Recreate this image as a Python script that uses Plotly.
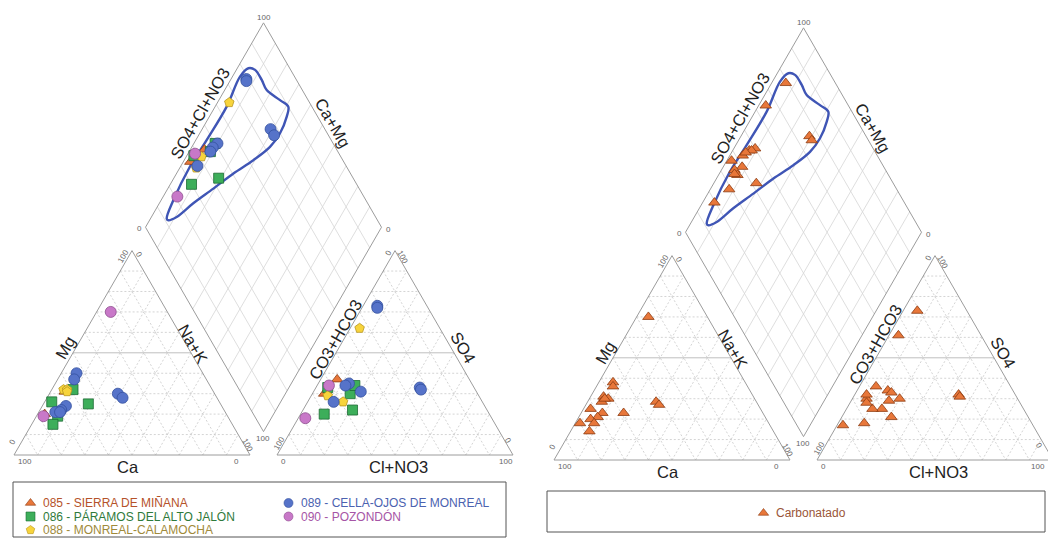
import math
import plotly.graph_objects as go

# ---------------- DATA (percent of meq/L) ----------------
# Left diagram - groundwater bodies
G085_CA = [63, 77]
G085_MG = [31, 20]
G085_NAK = [6, 3]
G085_HCO3 = [56, 65]
G085_SO4 = [37, 30]
G085_CL = [7, 5]

G086_CA = [71, 59, 56, 72, 76]
G086_MG = [26, 32, 25, 19, 15]
G086_NAK = [3, 9, 19, 9, 9]
G086_HCO3 = [62, 54, 57, 70, 50]
G086_SO4 = [33, 30, 22, 20, 34]
G086_CL = [5, 16, 21, 10, 16]

G088_CA = [63, 61.5, 62]
G088_MG = [32, 32, 31]
G088_NAK = [5, 6.5, 7]
G088_HCO3 = [34, 59, 64]
G088_SO4 = [62, 26, 29]
G088_CL = [4, 15, 7]

G089_CA = [53.5, 56, 41, 40, 66, 69, 72, 70]
G089_MG = [40, 37, 30, 28, 24, 22, 21, 21]
G089_NAK = [6.5, 7, 29, 32, 10, 9, 7, 9]
G089_HCO3 = [21, 21.5, 23, 23, 49, 52, 63, 54]
G089_SO4 = [73, 72, 33, 32, 31, 35, 26, 34]
G089_CL = [6, 6.5, 44, 45, 20, 13, 11, 12]

G090_CA = [24, 78]
G090_MG = [70, 19]
G090_NAK = [6, 3]
G090_HCO3 = [79, 61]
G090_SO4 = [18, 34]
G090_CL = [3, 5]

# Right diagram - carbonate samples
CARB_CA = [56, 72, 42.5, 42, 68, 59, 78, 25, 57, 63.5, 62, 65.5, 71, 74.5, 74, 80, 63.5]
CARB_MG = [38, 25, 28.5, 27, 23, 23, 14, 70, 36, 31, 30, 28.5, 21, 20, 18, 18, 30]
CARB_NAK = [6, 3, 29, 31, 9, 18, 8, 5, 7, 5.5, 8, 6, 8, 5.5, 8, 2, 6.5]
CARB_HCO3 = [21, 35, 24, 24, 50, 58, 71, 80.5, 53, 57, 52, 55, 60, 64, 64, 63, 65]
CARB_SO4 = [73, 61, 32, 31, 30, 21, 18, 17, 34, 36, 33, 29, 25, 25, 30, 32, 28]
CARB_CL = [6, 4, 44, 45, 20, 21, 11, 2.5, 13, 7, 15, 16, 15, 11, 6, 5, 7]

# Hand-drawn facies envelope in diamond coordinates (SO4+Cl %, Ca+Mg %)
ENV_P = [11.1, 18.4, 33.6, 47.2, 63.9, 76.9, 82.5, 84.9, 85.3, 84.9, 88.1, 90.0,
         86.9, 80.0, 72.4, 62.1, 50.4, 38.2, 26.1, 15.7, 11.4, 11.1]
ENV_Q = [93.1, 94.8, 96.0, 95.4, 95.1, 96.8, 95.3, 92.1, 86.8, 82.2, 74.1, 69.0,
         67.2, 66.0, 66.9, 70.7, 75.9, 80.7, 85.6, 89.3, 92.0, 93.1]

LEFT_GROUPS = [
    ("085 - SIERRA DE MIÑANA", G085_CA, G085_MG, G085_NAK, G085_HCO3, G085_SO4, G085_CL),
    ("086 - PÁRAMOS DEL ALTO JALÓN", G086_CA, G086_MG, G086_NAK, G086_HCO3, G086_SO4, G086_CL),
    ("088 - MONREAL-CALAMOCHA", G088_CA, G088_MG, G088_NAK, G088_HCO3, G088_SO4, G088_CL),
    ("089 - CELLA-OJOS DE MONREAL", G089_CA, G089_MG, G089_NAK, G089_HCO3, G089_SO4, G089_CL),
    ("090 - POZONDÓN", G090_CA, G090_MG, G090_NAK, G090_HCO3, G090_SO4, G090_CL),
]
RIGHT_GROUPS = [("Carbonatado", CARB_CA, CARB_MG, CARB_NAK, CARB_HCO3, CARB_SO4, CARB_CL)]

# ---------------- STYLE ----------------
STYLES = {
    "085 - SIERRA DE MIÑANA": dict(symbol="triangle-up", fill="#E8773A", edge="#8C3B12", text="#B5522A"),
    "086 - PÁRAMOS DEL ALTO JALÓN": dict(symbol="square", fill="#3DAE5A", edge="#1D6B33", text="#2F7A3B"),
    "088 - MONREAL-CALAMOCHA": dict(symbol="pentagon", fill="#F7D43C", edge="#B8961E", text="#A08A3A"),
    "089 - CELLA-OJOS DE MONREAL": dict(symbol="circle", fill="#5673C9", edge="#34509E", text="#4B62B0"),
    "090 - POZONDÓN": dict(symbol="circle", fill="#C878C8", edge="#8E4E8E", text="#A655A6"),
    "Carbonatado": dict(symbol="triangle-up", fill="#E8773A", edge="#8C3B12", text="#9A5638"),
}
FONT = "Liberation Sans, Arial, sans-serif"

W, HGT = 1048, 538
S = 236.0
H = S * math.sqrt(3) / 2
GAP = 27.0


def cat_xy(ca, mg, nak, ox, oy):
    t = ca + mg + nak
    m, n = mg / t, nak / t
    return ox + S * (n + 0.5 * m), oy - H * m


def an_xy(hco3, so4, cl, ox, oy):
    t = hco3 + so4 + cl
    s4, c = so4 / t, cl / t
    return ox + S + GAP + S * (c + 0.5 * s4), oy - H * s4


def dia_xy(p, q, ox, oy):
    bx = ox + S + GAP / 2
    by = oy - GAP * math.sqrt(3) / 2
    return bx + S / 2 * (p - q), by - H * (p + q)


fig = go.Figure()
annotations = []
shapes = []


def add_lines(segs, color, width, dash="solid"):
    xs, ys = [], []
    for (x0, y0), (x1, y1) in segs:
        xs += [x0, x1, None]
        ys += [y0, y1, None]
    fig.add_trace(go.Scatter(x=xs, y=ys, mode="lines", hoverinfo="skip", showlegend=False,
                             line=dict(color=color, width=width, dash=dash)))


def ann(x, y, text, size, angle=0, color="#222", xanchor="center"):
    annotations.append(dict(x=x, y=y, xref="x", yref="y", text=text, showarrow=False,
                            textangle=angle, xanchor=xanchor, yanchor="middle",
                            font=dict(family=FONT, size=size, color=color)))


def draw_diagram(ox, oy, groups):
    dashed, solid50, dgrid = [], [], []
    for k in range(1, 10):
        f = k * 10
        lst = solid50 if k == 5 else dashed
        # cation triangle
        lst.append((cat_xy(100 - f, f, 0, ox, oy), cat_xy(0, f, 100 - f, ox, oy)))
        dashed.append((cat_xy(f, 100 - f, 0, ox, oy), cat_xy(f, 0, 100 - f, ox, oy)))
        dashed.append((cat_xy(100 - f, 0, f, ox, oy), cat_xy(0, 100 - f, f, ox, oy)))
        # anion triangle
        lst.append((an_xy(100 - f, f, 0, ox, oy), an_xy(0, f, 100 - f, ox, oy)))
        dashed.append((an_xy(f, 100 - f, 0, ox, oy), an_xy(f, 0, 100 - f, ox, oy)))
        dashed.append((an_xy(100 - f, 0, f, ox, oy), an_xy(0, 100 - f, f, ox, oy)))
        # diamond
        dgrid.append((dia_xy(k / 10, 0, ox, oy), dia_xy(k / 10, 1, ox, oy)))
        dgrid.append((dia_xy(0, k / 10, ox, oy), dia_xy(1, k / 10, ox, oy)))
    add_lines(dashed, "#c9c9c9", 0.8, "2px,2px")
    add_lines(solid50, "#b8b8b8", 0.9)
    add_lines(dgrid, "#d6d6d6", 0.8)

    # borders
    c1, c2, c3 = cat_xy(100, 0, 0, ox, oy), cat_xy(0, 0, 100, ox, oy), cat_xy(0, 100, 0, ox, oy)
    a1, a2, a3 = an_xy(100, 0, 0, ox, oy), an_xy(0, 0, 100, ox, oy), an_xy(0, 100, 0, ox, oy)
    d1, d2, d3, d4 = dia_xy(0, 0, ox, oy), dia_xy(1, 0, ox, oy), dia_xy(1, 1, ox, oy), dia_xy(0, 1, ox, oy)
    border = [(c1, c2), (c2, c3), (c3, c1), (a1, a2), (a2, a3), (a3, a1),
              (d1, d2), (d2, d3), (d3, d4), (d4, d1)]
    add_lines(border, "#9c9c9c", 1.0)

    # envelope
    ex, ey = [], []
    for p, q in zip(ENV_P, ENV_Q):
        x, y = dia_xy(p / 100, q / 100, ox, oy)
        ex.append(x)
        ey.append(y)
    fig.add_trace(go.Scatter(x=ex, y=ey, mode="lines", line=dict(color="#3F55B5", width=2.4, shape="spline", smoothing=1.0),
                             hoverinfo="skip", showlegend=False))

    # data points
    for name, ca, mg, nak, hco3, so4, cl in groups:
        st = STYLES[name]
        xs, ys = [], []
        for i in range(len(ca)):
            x, y = cat_xy(ca[i], mg[i], nak[i], ox, oy)
            xs.append(x); ys.append(y)
            x, y = an_xy(hco3[i], so4[i], cl[i], ox, oy)
            xs.append(x); ys.append(y)
            p = (so4[i] + cl[i]) / (hco3[i] + so4[i] + cl[i])
            q = (ca[i] + mg[i]) / (ca[i] + mg[i] + nak[i])
            x, y = dia_xy(p, q, ox, oy)
            xs.append(x); ys.append(y)
        sz = 10 if st["symbol"] != "circle" else 11
        fig.add_trace(go.Scatter(x=xs, y=ys, mode="markers", name=name, showlegend=False,
                                 marker=dict(symbol=st["symbol"], size=sz, color=st["fill"],
                                             line=dict(color=st["edge"], width=0.8))))

    # axis titles
    T = 16.5
    ann(ox + 51, oy - 107, "Mg", T, -60)
    ann(ox + 179, oy - 111, "Na+K", T, 60)
    ann(ox + 114, oy + 12, "Ca", T)
    ann(ox + 321, oy - 115, "CO3+HCO3", T, -60)
    ann(ox + 449, oy - 108, "SO4", T, 60)
    ann(ox + 384, oy + 12, "Cl+NO3", T)
    ann(ox + 186, oy - 342, "SO4+Cl+NO3", T, -60)
    ann(ox + 319, oy - 332, "Ca+Mg", T, 60)

    # tick labels
    tk, tc = 8, "#666666"
    for dx, dy, t, a in [(11, 6, "100", 0), (222, 6, "0", 0), (-2, -13, "0", -60),
                         (109, -199, "100", -60), (125, -201, "0", 60), (234, -10, "100", 60),
                         (269, 6, "0", 0), (492, 6, "100", 0), (265, -12, "100", -60),
                         (374, -202, "0", -60), (389, -198, "100", 60), (494, -15, "0", 60),
                         (249.5, -438, "100", 0), (125, -227, "0", 0), (374, -226, "0", 0),
                         (249, -17, "100", 0)]:
        x = ox + dx
        if x > W - 8:
            ann(W - 1, oy + dy, t, tk, a, tc, xanchor="right")
        else:
            ann(x, oy + dy, t, tk, a, tc)


draw_diagram(14, 455, LEFT_GROUPS)
draw_diagram(554, 460, RIGHT_GROUPS)

# ---------------- LEGENDS (layout) ----------------
shapes.append(dict(type="rect", xref="x", yref="y", x0=13, x1=506, y0=482, y1=537,
                   line=dict(color="#555555", width=1), fillcolor="rgba(0,0,0,0)"))
shapes.append(dict(type="rect", xref="x", yref="y", x0=547, x1=1045, y0=491, y1=532,
                   line=dict(color="#555555", width=1), fillcolor="rgba(0,0,0,0)"))

LEG_POS = {
    "085 - SIERRA DE MIÑANA": (30.5, 503),
    "086 - PÁRAMOS DEL ALTO JALÓN": (30.5, 516.5),
    "088 - MONREAL-CALAMOCHA": (30.5, 530),
    "089 - CELLA-OJOS DE MONREAL": (288.5, 503),
    "090 - POZONDÓN": (288.5, 516.5),
    "Carbonatado": (763.5, 513),
}
for name, (lx, ly) in LEG_POS.items():
    st = STYLES[name]
    fig.add_trace(go.Scatter(x=[lx], y=[ly], mode="markers", showlegend=False, hoverinfo="skip",
                             marker=dict(symbol=st["symbol"], size=9, color=st["fill"],
                                         line=dict(color=st["edge"], width=0.6))))
    ann(lx + 10, ly, name, 12, 0, st["text"], xanchor="left")

fig.update_layout(
    width=W, height=HGT, margin=dict(l=0, r=0, t=0, b=0),
    paper_bgcolor="white", plot_bgcolor="white",
    xaxis=dict(range=[0, W], visible=False, fixedrange=True),
    yaxis=dict(range=[HGT, 0], visible=False, fixedrange=True),
    annotations=annotations, shapes=shapes, showlegend=False,
)

fig.write_html("out.html", config={"displayModeBar": False},
               post_script="document.body.style.margin='0';document.body.style.overflow='hidden';")
